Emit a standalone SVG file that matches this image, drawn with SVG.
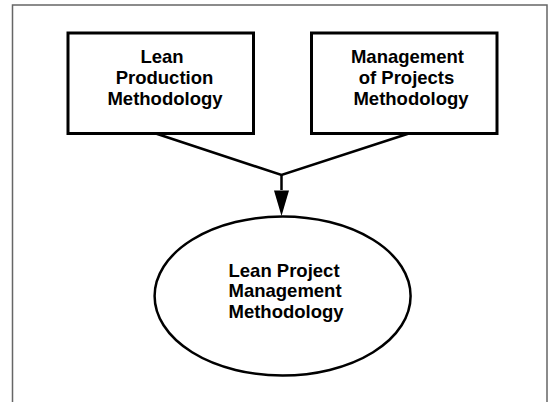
<svg xmlns="http://www.w3.org/2000/svg" width="555" height="402" viewBox="0 0 555 402">
<defs>
<style>
.box{fill:#fff;stroke:#000;stroke-width:3}
.lbl{font-family:"Liberation Sans",Arial,sans-serif;font-weight:bold;font-size:18.5px;fill:#000}
.c{text-anchor:middle}
.conn{fill:none;stroke:#000;stroke-width:2.5}
</style>
</defs>
<rect width="555" height="402" fill="#fff"/>
<path d="M12.5,402 V5 H547 V402" fill="none" stroke="#666" stroke-width="1.5"/>
<g id="connectors">
<polyline class="conn" points="155.8,133.5 281.5,175 408.8,133.5"/>
<path d="M281.5,175 V190" fill="none" stroke="#000" stroke-width="2.5"/>
<path d="M274,190.5 L289,190.5 L281.5,216 Z" fill="#000"/>
</g>
<g id="lean-production">
<rect class="box" x="68" y="33" width="185.5" height="100.5"/>
<text class="lbl c" x="162" y="63">Lean</text>
<text class="lbl c" x="164.5" y="84">Production</text>
<text class="lbl c" x="165" y="104.5">Methodology</text>
</g>
<g id="management-projects">
<rect class="box" x="311.5" y="33" width="185.5" height="100.5"/>
<text class="lbl c" x="407.5" y="63">Management</text>
<text class="lbl c" x="406.5" y="84">of Projects</text>
<text class="lbl c" x="411" y="104.5">Methodology</text>
</g>
<g id="lean-project-management">
<ellipse cx="282.6" cy="296" rx="128" ry="79.5" fill="#fff" stroke="#000" stroke-width="2.5"/>
<text class="lbl" x="228.5" y="277">Lean Project</text>
<text class="lbl" x="228.5" y="297">Management</text>
<text class="lbl" x="228.5" y="317.5">Methodology</text>
</g>
</svg>
